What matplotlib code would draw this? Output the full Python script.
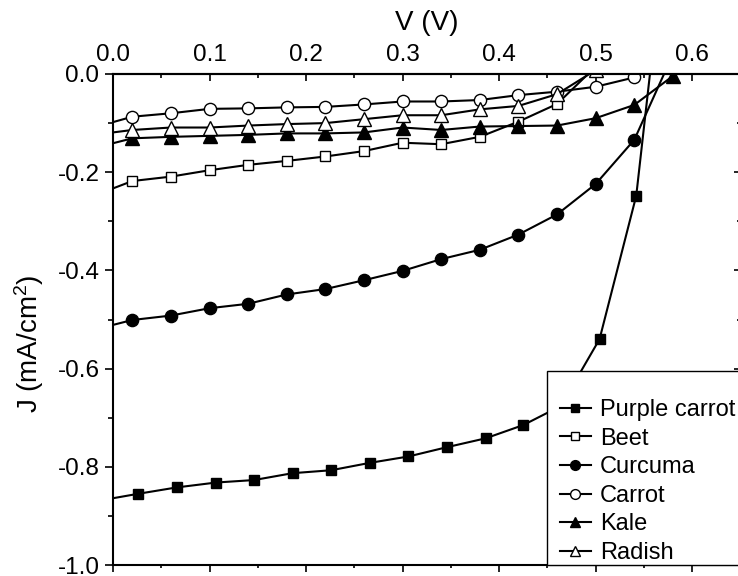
import matplotlib.pyplot as plt
from matplotlib.lines import Line2D
from matplotlib.patches import Rectangle
from matplotlib.ticker import MultipleLocator

plt.rcParams['font.family'] = ['Liberation Sans', 'DejaVu Sans']
plt.rcParams['mathtext.default'] = 'regular'
plt.rcParams['axes.unicode_minus'] = False

# voltage points (first point at 0 V has no symbol)
V = [0.0, 0.02, 0.06, 0.10, 0.14, 0.18, 0.22, 0.26, 0.30, 0.34, 0.38, 0.42, 0.46, 0.50, 0.54, 0.58]
V_purple = [0.0, 0.026, 0.066, 0.107, 0.146, 0.186, 0.226, 0.266, 0.306, 0.346, 0.386, 0.425, 0.464,
            0.504, 0.542, 0.582]

J_purple = [-0.864, -0.855, -0.842, -0.832, -0.827, -0.813, -0.807, -0.792, -0.779, -0.760, -0.742,
            -0.715, -0.676, -0.540, -0.248, 0.45]
J_beet = [-0.233, -0.218, -0.209, -0.196, -0.185, -0.177, -0.168, -0.157, -0.140, -0.143, -0.128,
          -0.097, -0.061, 0.015]
J_curcuma = [-0.511, -0.501, -0.492, -0.477, -0.468, -0.449, -0.438, -0.420, -0.401, -0.377, -0.358,
             -0.327, -0.286, -0.224, -0.134, 0.04]
J_carrot = [-0.098, -0.087, -0.080, -0.071, -0.070, -0.068, -0.067, -0.062, -0.056, -0.056, -0.053,
            -0.043, -0.036, -0.026, -0.007]
J_kale = [-0.141, -0.131, -0.128, -0.126, -0.124, -0.121, -0.121, -0.119, -0.109, -0.114, -0.107,
          -0.106, -0.105, -0.090, -0.063, -0.004]
J_radish = [-0.119, -0.114, -0.109, -0.109, -0.105, -0.102, -0.100, -0.092, -0.084, -0.084, -0.072,
            -0.065, -0.041, 0.008]

series = [
    ('Purple carrot', V_purple, J_purple, 's', 'k', 7.5),
    ('Beet', V, J_beet, 's', 'white', 7.5),
    ('Curcuma', V, J_curcuma, 'o', 'k', 8.8),
    ('Carrot', V, J_carrot, 'o', 'white', 8.8),
    ('Kale', V, J_kale, '^', 'k', 9.5),
    ('Radish', V, J_radish, '^', 'white', 9.5),
]

W, H = 738, 576
fig = plt.figure(figsize=(W / 100, H / 100), dpi=100)
ax = fig.add_axes([113 / W, (H - 565) / H, 627.5 / W, 491 / H])

handles = []
for name, x, y, m, fc, ms in series:
    ax.plot(x[:len(y)], y, color='k', lw=1.5, marker=m, ms=ms, mfc=fc, mec='k', mew=1,
            markevery=slice(1, None))
    handles.append(Line2D([], [], color='k', lw=1.5, marker=m, ms=ms * 0.8, mfc=fc, mec='k',
                          mew=1, label=name))

ax.set_xlim(0, 0.65)
ax.set_ylim(-1.0, 0.0)

for s in ax.spines.values():
    s.set_linewidth(1.5)

ax.xaxis.set_major_locator(MultipleLocator(0.1))
ax.xaxis.set_minor_locator(MultipleLocator(0.05))
ax.yaxis.set_major_locator(MultipleLocator(0.2))
ax.yaxis.set_minor_locator(MultipleLocator(0.1))
ax.tick_params(axis='x', which='both', direction='out', bottom=True, top=False, labelbottom=False,
               width=1.2)
ax.tick_params(axis='x', which='major', length=5)
ax.tick_params(axis='x', which='minor', length=2.5)
ax.tick_params(axis='y', which='both', direction='out', left=True, right=False, width=1.2,
               labelsize=17.5, pad=4)
ax.tick_params(axis='y', which='major', length=5.8)
ax.tick_params(axis='y', which='minor', length=3.6)

secx = ax.secondary_xaxis('top')
secx.xaxis.set_major_locator(MultipleLocator(0.1))
secx.xaxis.set_minor_locator(MultipleLocator(0.05))
secx.tick_params(which='both', direction='in', width=1.2, labelsize=17.5, pad=5.5)
secx.tick_params(which='major', length=5)
secx.tick_params(which='minor', length=3)
secx.spines['top'].set_linewidth(1.5)
secx.set_xlabel('V (V)', fontsize=20, labelpad=10)

secy = ax.secondary_yaxis('right')
secy.yaxis.set_major_locator(MultipleLocator(0.2))
secy.yaxis.set_minor_locator(MultipleLocator(0.1))
secy.tick_params(which='both', direction='in', width=1.2, labelright=False)
secy.tick_params(which='major', length=5)
secy.tick_params(which='minor', length=3)
secy.spines['right'].set_linewidth(1.5)

ax.set_ylabel(r'J (mA/cm$^2$)', fontsize=20)
ax.yaxis.set_label_coords(-0.107, 0.451)

frame = Rectangle((547 / W, (H - 565) / H), 210 / W, 194 / H, transform=fig.transFigure,
                  facecolor='white', edgecolor='k', lw=1, zorder=4, clip_on=False)
ax.add_artist(frame)
ax.legend(handles=handles, loc='upper left', bbox_to_anchor=(560 / W, 1 - 399 / H),
          bbox_transform=fig.transFigure, frameon=False, fontsize=17, handlelength=1.3,
          handletextpad=0.4, labelspacing=0.28, borderpad=0, borderaxespad=0)

fig.savefig('out.png', dpi=100)
